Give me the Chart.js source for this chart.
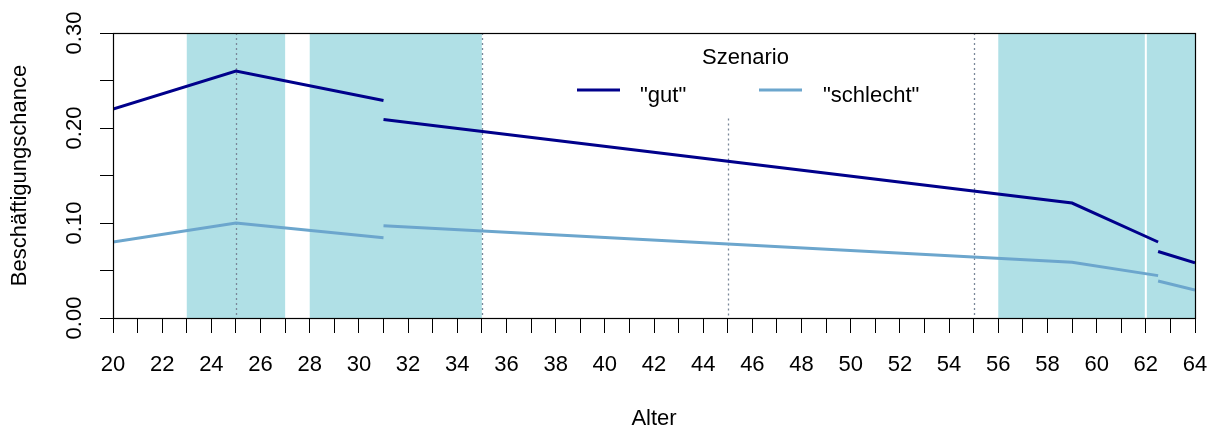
<!DOCTYPE html>
<html>
<head>
<meta charset="utf-8">
<script src="https://cdn.jsdelivr.net/npm/chart.js@4.4.1/dist/chart.umd.min.js"></script>
<style>
  html, body { margin: 0; padding: 0; background: #ffffff; }
  #wrap { width: 1210px; height: 432px; position: relative; }
</style>
</head>
<body>
<div id="wrap"><canvas id="c" width="1210" height="432"></canvas></div>
<script>
// ---- data (null = break in the line) ----
const alter    = [20, 25, 31, null, 31, 59, 62.5, null, 62.5, 64];
const gut      = [0.220, 0.260, 0.229, null, 0.209, 0.121, 0.080, null, 0.070, 0.058];
const schlecht = [0.080, 0.100, 0.0845, null, 0.097, 0.0586, 0.0446, null, 0.039, 0.0295];
const seriesNames = ['"gut"', '"schlecht"'];
const legendTitle = 'Szenario';

// shaded age ranges
const shadeFrom = [23, 28, 56];
const shadeTo   = [27, 35, 64];
// dotted guide lines (age, top value)
const guideAges = [25, 35, 45, 55];
const guideTops = [0.30, 0.30, 0.21, 0.30];
// white separator lines
const whiteAges = [62];

// axes
const xMin = 20, xMax = 64, xStep = 1;
const yMin = 0, yMax = 0.30, yStep = 0.05;
const yTickValues = [0, 0.10, 0.20, 0.30];
const yTickLabels = ['0.00', '0.10', '0.20', '0.30'];
const xTitle = 'Alter';
const yTitle = 'Beschäftigungschance';

const colGut = '#00008B';
const colSchlecht = '#6CA6CD';
const FONT = '"Liberation Sans", Arial, Helvetica, sans-serif';

const pts = (ys) => alter.map((a, i) => ({ x: a, y: ys[i] }));

const decor = {
  id: 'decor',
  beforeDatasetsDraw(chart) {
    const { ctx, chartArea: a, scales: { x, y } } = chart;
    ctx.save();
    ctx.fillStyle = '#B0E0E6';
    shadeFrom.forEach((f, i) => {
      const x0 = x.getPixelForValue(f), x1 = x.getPixelForValue(shadeTo[i]);
      ctx.fillRect(x0, a.top, x1 - x0, a.bottom - a.top);
    });
    ctx.strokeStyle = '#ffffff';
    ctx.lineWidth = 2;
    whiteAges.forEach(v => {
      const px = x.getPixelForValue(v);
      ctx.beginPath(); ctx.moveTo(px, a.top); ctx.lineTo(px, a.bottom); ctx.stroke();
    });
    ctx.strokeStyle = '#7A8799';
    ctx.lineWidth = 1.3;
    ctx.setLineDash([2, 3]);
    guideAges.forEach((v, i) => {
      const px = Math.round(x.getPixelForValue(v)) + 0.5;
      ctx.beginPath(); ctx.moveTo(px, y.getPixelForValue(guideTops[i])); ctx.lineTo(px, a.bottom); ctx.stroke();
    });
    ctx.restore();
  },
  afterDraw(chart) {
    const { ctx, chartArea: a, scales: { x, y } } = chart;
    ctx.save();
    // box
    ctx.strokeStyle = '#000000';
    ctx.lineWidth = 1.2;
    ctx.strokeRect(Math.round(a.left) + 0.5, Math.round(a.top) + 0.5, Math.round(a.right - a.left), Math.round(a.bottom - a.top));
    // rotated y tick labels
    ctx.fillStyle = '#000000';
    ctx.font = '22px ' + FONT;
    ctx.textAlign = 'center';
    ctx.textBaseline = 'middle';
    yTickValues.forEach((v, i) => {
      const py = y.getPixelForValue(v);
      ctx.save();
      ctx.translate(75, py);
      ctx.rotate(-Math.PI / 2);
      ctx.fillText(yTickLabels[i], 0, 0);
      ctx.restore();
    });
    // legend
    ctx.textAlign = 'center';
    ctx.textBaseline = 'alphabetic';
    ctx.fillText(legendTitle, 745.5, 64);
    const lx = [577, 759], tx = [640, 823], cols = [colGut, colSchlecht];
    ctx.textAlign = 'left';
    seriesNames.forEach((n, i) => {
      ctx.strokeStyle = cols[i];
      ctx.lineWidth = 3;
      ctx.beginPath(); ctx.moveTo(lx[i], 90); ctx.lineTo(lx[i] + 43, 90); ctx.stroke();
      ctx.fillText(n, tx[i], 101.5);
    });
    ctx.restore();
  }
};

Chart.defaults.font.family = FONT;
Chart.defaults.font.size = 22;
Chart.defaults.color = '#000000';

new Chart(document.getElementById('c'), {
  type: 'line',
  data: {
    datasets: [
      { label: seriesNames[0], data: pts(gut), borderColor: colGut, borderWidth: 3, pointRadius: 0, tension: 0, spanGaps: false, borderCapStyle: 'butt' },
      { label: seriesNames[1], data: pts(schlecht), borderColor: colSchlecht, borderWidth: 3, pointRadius: 0, tension: 0, spanGaps: false, borderCapStyle: 'butt' }
    ]
  },
  options: {
    responsive: false,
    animation: false,
    parsing: true,
    layout: { padding: { top: 33, right: 15, left: 0, bottom: 0 } },
    plugins: { legend: { display: false }, tooltip: { enabled: false } },
    scales: {
      x: {
        type: 'linear', min: xMin, max: xMax,
        ticks: {
          stepSize: xStep, autoSkip: false, maxRotation: 0, minRotation: 0, padding: 19,
          callback: (v) => (v % 2 === 0 ? String(v) : '')
        },
        grid: { drawOnChartArea: false, drawTicks: true, tickLength: 15, color: '#000000', tickColor: '#000000', lineWidth: 1 },
        border: { display: true, color: '#000000', width: 1 },
        title: { display: true, text: xTitle, padding: { top: 0, bottom: 0 }, font: { size: 22 } },
        afterFit: (s) => { s.height = 114; s.paddingLeft = 0; s.paddingRight = 0; }
      },
      y: {
        type: 'linear', min: yMin, max: yMax,
        ticks: { stepSize: yStep, display: false },
        grid: { drawOnChartArea: false, drawTicks: true, tickLength: 13, color: '#000000', tickColor: '#000000', lineWidth: 1 },
        border: { display: true, color: '#000000', width: 1 },
        title: { display: true, text: yTitle, padding: { top: 7, bottom: 0 }, font: { size: 22 } },
        afterFit: (s) => { s.width = 113; s.paddingTop = 0; s.paddingBottom = 0; }
      }
    }
  },
  plugins: [decor]
});
</script>
</body>
</html>
